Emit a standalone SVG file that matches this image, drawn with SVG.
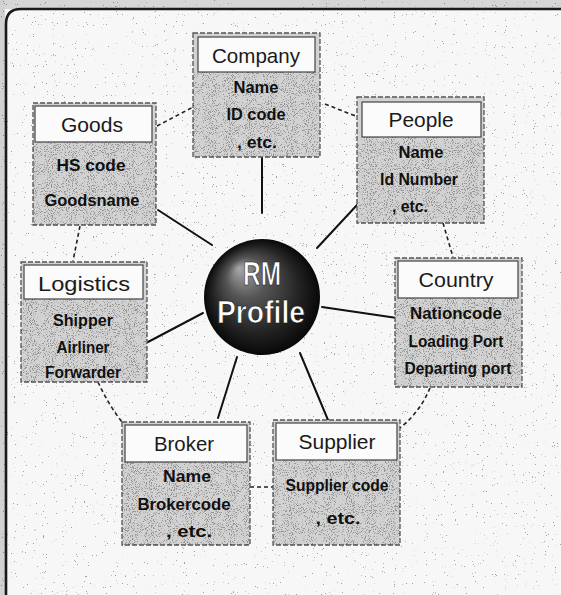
<svg xmlns="http://www.w3.org/2000/svg" width="561" height="595" viewBox="0 0 561 595">
  <defs>
    <style>
      .outer { fill: #d2d2d2; stroke: #555; stroke-width: 1.3; stroke-dasharray: 5 2; }
      .title { fill: #fbfbfb; stroke: #444; stroke-width: 1.2; }
      .ttl { font-family: "Liberation Sans", Arial, sans-serif; font-size: 21px; fill: #1a1a1a; text-anchor: middle; }
      .att { font-family: "Liberation Sans", Arial, sans-serif; font-size: 16px; font-weight: bold; fill: #111; text-anchor: middle; }
      .solid { stroke: #111; stroke-width: 2; fill: none; stroke-linecap: round; }
      .dash { stroke: #222; stroke-width: 1.6; fill: none; stroke-dasharray: 4 3; }
      .globe { font-family: "Liberation Sans", Arial, sans-serif; font-weight: bold; fill: #fff; stroke: #111; stroke-width: 0.7; text-anchor: middle; }
    </style>
    <!-- sparse photocopy speckle over the page -->
    <filter id="speckleLight" x="0" y="0" width="100%" height="100%">
      <feTurbulence type="fractalNoise" baseFrequency="0.9" numOctaves="2" seed="4"/>
      <feColorMatrix type="matrix" values="0 0 0 0 0  0 0 0 0 0  0 0 0 0 0  18 0 0 0 -13.2"/>
    </filter>
    <!-- denser speckle for the shaded attribute panels -->
    <filter id="speckleDense" x="0" y="0" width="100%" height="100%">
      <feTurbulence type="fractalNoise" baseFrequency="0.95" numOctaves="2" seed="9"/>
      <feColorMatrix type="matrix" values="0 0 0 0 0  0 0 0 0 0  0 0 0 0 0  10 0 0 0 -5.6"/>
    </filter>
    <radialGradient id="sphere" cx="0.5" cy="0.5" r="0.5" fx="0.3" fy="0.25">
      <stop offset="0" stop-color="#a8a8a8"/>
      <stop offset="0.35" stop-color="#555"/>
      <stop offset="0.75" stop-color="#222"/>
      <stop offset="1" stop-color="#080808"/>
    </radialGradient>
    <clipPath id="panels">
      <rect x="193" y="72" width="127" height="85"/>
      <rect x="33" y="142" width="123" height="83"/>
      <rect x="357" y="137" width="127" height="86"/>
      <rect x="395" y="298" width="127" height="89"/>
      <rect x="21" y="299" width="126" height="83"/>
      <rect x="122" y="462" width="128" height="83"/>
      <rect x="273" y="460" width="127" height="85"/>
    </clipPath>
  </defs>

  <!-- page -->
  <rect x="0" y="0" width="561" height="595" fill="#f7f7f7"/>
  <rect x="0" y="0" width="561" height="9" fill="#d6d6d6"/>
  <rect x="0" y="0" width="5" height="595" fill="#d2d2d2"/>
  <rect x="0" y="0" width="561" height="595" filter="url(#speckleLight)" opacity="0.35"/>
  <path d="M6 595 L6 24 Q6 9 21 9 L561 9" fill="none" stroke="#1a1a1a" stroke-width="2.6"/>

  <!-- connectors -->
  <g id="connectors">
    <line class="solid" x1="262" y1="157" x2="262" y2="213"/>
    <line class="solid" x1="158" y1="210" x2="212" y2="245"/>
    <line class="solid" x1="357" y1="205" x2="317" y2="248"/>
    <line class="solid" x1="322" y1="307" x2="397" y2="318"/>
    <line class="solid" x1="148" y1="342" x2="203" y2="313"/>
    <line class="solid" x1="237" y1="357" x2="218" y2="418"/>
    <line class="solid" x1="300" y1="353" x2="328" y2="420"/>
    <line class="dash" x1="157" y1="126" x2="195" y2="106"/>
    <line class="dash" x1="325" y1="104" x2="358" y2="117"/>
    <line class="dash" x1="80" y1="226" x2="73" y2="261"/>
    <line class="dash" x1="443" y1="223" x2="453" y2="257"/>
    <path class="dash" d="M98 382 Q108 404 122 422"/>
    <path class="dash" d="M430 388 Q420 412 400 428"/>
    <line class="dash" x1="250" y1="487" x2="273" y2="487"/>
  </g>

  <!-- Company -->
  <g id="company">
    <rect class="outer" x="193" y="33" width="127" height="124"/>
    <rect class="title" x="198" y="37" width="117" height="35"/>
    <text class="ttl" x="256" y="63" textLength="88" lengthAdjust="spacingAndGlyphs">Company</text>
    <text class="att" x="256" y="93" textLength="45" lengthAdjust="spacingAndGlyphs">Name</text>
    <text class="att" x="256" y="120" textLength="59" lengthAdjust="spacingAndGlyphs">ID code</text>
    <text class="att" x="257" y="148" textLength="40" lengthAdjust="spacingAndGlyphs">, etc.</text>
  </g>

  <!-- Goods -->
  <g id="goods">
    <rect class="outer" x="33" y="103" width="123" height="122"/>
    <rect class="title" x="35" y="106" width="117" height="36"/>
    <text class="ttl" x="92" y="132" textLength="62" lengthAdjust="spacingAndGlyphs">Goods</text>
    <text class="att" x="91" y="171" textLength="69" lengthAdjust="spacingAndGlyphs">HS code</text>
    <text class="att" x="92" y="206" textLength="95" lengthAdjust="spacingAndGlyphs">Goodsname</text>
  </g>

  <!-- People -->
  <g id="people">
    <rect class="outer" x="357" y="97" width="127" height="126"/>
    <rect class="title" x="362" y="102" width="119" height="35"/>
    <text class="ttl" x="421" y="127" textLength="65" lengthAdjust="spacingAndGlyphs">People</text>
    <text class="att" x="421" y="158" textLength="45" lengthAdjust="spacingAndGlyphs">Name</text>
    <text class="att" x="419" y="185" textLength="78" lengthAdjust="spacingAndGlyphs">Id Number</text>
    <text class="att" x="410" y="212" textLength="36" lengthAdjust="spacingAndGlyphs">, etc.</text>
  </g>

  <!-- Country -->
  <g id="country">
    <rect class="outer" x="395" y="258" width="127" height="129"/>
    <rect class="title" x="398" y="261" width="120" height="37"/>
    <text class="ttl" x="456" y="287" textLength="75" lengthAdjust="spacingAndGlyphs">Country</text>
    <text class="att" x="456" y="319" textLength="92" lengthAdjust="spacingAndGlyphs">Nationcode</text>
    <text class="att" x="456" y="347" textLength="95" lengthAdjust="spacingAndGlyphs">Loading Port</text>
    <text class="att" x="458" y="374" textLength="107" lengthAdjust="spacingAndGlyphs">Departing port</text>
  </g>

  <!-- Logistics -->
  <g id="logistics">
    <rect class="outer" x="21" y="262" width="126" height="120"/>
    <rect class="title" x="24" y="265" width="119" height="34"/>
    <text class="ttl" x="84" y="291" textLength="92" lengthAdjust="spacingAndGlyphs">Logistics</text>
    <text class="att" x="83" y="326" textLength="60" lengthAdjust="spacingAndGlyphs">Shipper</text>
    <text class="att" x="83" y="353" textLength="53" lengthAdjust="spacingAndGlyphs">Airliner</text>
    <text class="att" x="83" y="378" textLength="76" lengthAdjust="spacingAndGlyphs">Forwarder</text>
  </g>

  <!-- Broker -->
  <g id="broker">
    <rect class="outer" x="122" y="422" width="128" height="123"/>
    <rect class="title" x="125" y="425" width="122" height="37"/>
    <text class="ttl" x="184" y="451" textLength="60" lengthAdjust="spacingAndGlyphs">Broker</text>
    <text class="att" x="187" y="482" textLength="48" lengthAdjust="spacingAndGlyphs">Name</text>
    <text class="att" x="184" y="510" textLength="93" lengthAdjust="spacingAndGlyphs">Brokercode</text>
    <text class="att" x="189" y="537" textLength="46" lengthAdjust="spacingAndGlyphs">, etc.</text>
  </g>

  <!-- Supplier -->
  <g id="supplier">
    <rect class="outer" x="273" y="420" width="127" height="125"/>
    <rect class="title" x="276" y="423" width="121" height="37"/>
    <text class="ttl" x="337" y="449" textLength="77" lengthAdjust="spacingAndGlyphs">Supplier</text>
    <text class="att" x="337" y="491" textLength="103" lengthAdjust="spacingAndGlyphs">Supplier code</text>
    <text class="att" x="338" y="524" textLength="45" lengthAdjust="spacingAndGlyphs">, etc.</text>
  </g>

  <!-- grain over the shaded panels -->
  <rect x="0" y="0" width="561" height="595" clip-path="url(#panels)" filter="url(#speckleDense)" opacity="0.3"/>

  <!-- central sphere -->
  <g id="rm-profile">
    <circle cx="262" cy="297" r="58" fill="url(#sphere)"/>
    <text class="globe" x="262" y="285" font-size="34" textLength="38" lengthAdjust="spacingAndGlyphs">RM</text>
    <text class="globe" x="261" y="323" font-size="32" textLength="88" lengthAdjust="spacingAndGlyphs">Profile</text>
  </g>
</svg>
